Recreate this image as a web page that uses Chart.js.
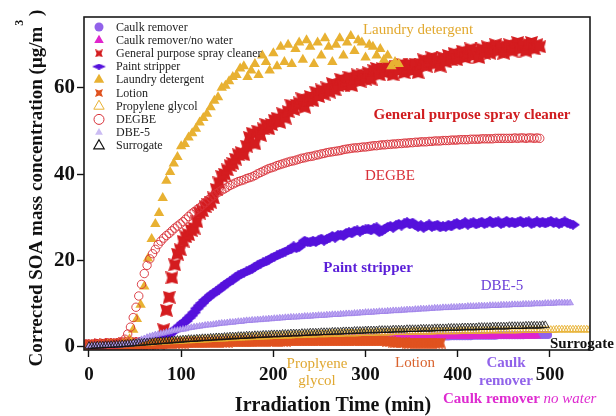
<!DOCTYPE html>
<html>
<head>
<meta charset="utf-8">
<script src="https://cdn.jsdelivr.net/npm/chart.js@4.4.1/dist/chart.umd.min.js"></script>
<style>
  html, body { margin: 0; padding: 0; background: #ffffff; }
  canvas { display: block; }
</style>
</head>
<body>
<canvas id="soa" width="616" height="416"></canvas>
<script>
// ---- Series data: corrected SOA mass concentration (µg/m³) vs irradiation time (min) ----
const seriesNames = ['Caulk remover', 'Caulk remover/no water', 'General purpose spray cleaner',
  'Paint stripper', 'Laundry detergent', 'Lotion', 'Propylene glycol', 'DEGBE', 'DBE-5', 'Surrogate'];
const xTicks = [0, 100, 200, 300, 400, 500];
const yTicks = [0, 20, 40, 60];

// sampled every 3 min (one row = 30 min)
const caulkRemover = [
  0.0,0.0,0.1,0.1,0.1,0.1,0.1,0.2,0.2,0.2,  0.2,0.2,0.3,0.3,0.3,0.3,0.4,0.4,0.4,0.4,
  0.4,0.5,0.5,0.5,0.5,0.6,0.6,0.6,0.6,0.7,  0.7,0.7,0.7,0.7,0.8,0.8,0.8,0.8,0.9,0.9,
  0.9,0.9,0.9,1.0,1.0,1.0,1.0,1.1,1.1,1.1,  1.1,1.1,1.2,1.2,1.2,1.2,1.2,1.3,1.3,1.3,
  1.3,1.3,1.4,1.4,1.4,1.4,1.4,1.5,1.5,1.5,  1.5,1.5,1.5,1.6,1.6,1.6,1.6,1.6,1.7,1.7,
  1.7,1.7,1.7,1.7,1.8,1.8,1.8,1.8,1.8,1.8,  1.9,1.9,1.9,1.9,1.9,1.9,2.0,2.0,2.0,2.0,
  2.0,2.0,2.1,2.1,2.1,2.1,2.1,2.1,2.1,2.2,  2.2,2.2,2.2,2.2,2.2,2.3,2.3,2.3,2.3,2.3,
  2.3,2.3,2.3,2.4,2.4,2.4,2.4,2.4,2.4,2.4,  2.4,2.5,2.5,2.5,2.5,2.5,2.5,2.5,2.5,2.6,
  2.6,2.6,2.6,2.6,2.6,2.6,2.6,2.6,2.7,2.7,  2.7,2.7,2.7,2.7,2.7,2.7,2.7,2.7,2.8,2.8,
  2.8,2.8,2.8,2.8,2.8,2.8,2.8];
const caulkNoWater = [
  0.1,0.1,0.1,0.2,0.2,0.2,0.2,0.3,0.3,0.3,  0.3,0.4,0.4,0.4,0.5,0.5,0.5,0.6,0.6,0.6,
  0.7,0.7,0.7,0.8,0.8,0.8,0.9,0.9,0.9,1.0,  1.0,1.0,1.1,1.1,1.1,1.2,1.2,1.2,1.3,1.3,
  1.3,1.3,1.4,1.4,1.4,1.4,1.5,1.5,1.5,1.5,  1.6,1.6,1.6,1.6,1.7,1.7,1.7,1.7,1.7,1.8,
  1.8,1.8,1.8,1.8,1.9,1.9,1.9,1.9,1.9,1.9,  2.0,2.0,2.0,2.0,2.0,2.0,2.0,2.1,2.1,2.1,
  2.1,2.1,2.1,2.1,2.1,2.1,2.1,2.1,2.2,2.2,  2.2,2.2,2.2,2.2,2.2,2.2,2.2,2.2,2.2,2.2,
  2.2,2.2,2.2,2.2,2.3,2.3,2.3,2.3,2.3,2.3,  2.3,2.3,2.3,2.3,2.3,2.3,2.3,2.3,2.3,2.3,
  2.3,2.3,2.3,2.3,2.3,2.4,2.4,2.4,2.4,2.4,  2.4,2.4,2.4,2.4,2.4,2.4,2.4,2.4,2.4,2.4,
  2.4,2.4,2.4,2.4,2.4,2.4,2.5,2.5,2.5,2.5,  2.5,2.5,2.5,2.5,2.5,2.5,2.5,2.5,2.5,2.5,
  2.5,2.5,2.5];
const lotion = [
  0.3,0.3,0.4,0.3,0.4,0.4,0.4,0.5,0.4,0.5,  0.5,0.5,0.5,0.6,0.6,0.6,0.6,0.6,0.7,0.7,
  0.7,0.7,0.7,0.8,0.8,0.8,0.8,0.8,0.8,0.9,  0.9,0.9,0.9,0.9,0.9,1.0,1.0,1.0,1.0,1.0,
  1.0,1.0,1.0,1.1,1.1,1.1,1.1,1.1,1.1,1.1,  1.1,1.2,1.2,1.2,1.2,1.2,1.2,1.2,1.2,1.2,
  1.3,1.3,1.3,1.3,1.3,1.3,1.3,1.3,1.3,1.3,  1.3,1.3,1.4,1.4,1.4,1.4,1.4,1.4,1.4,1.4,
  1.4,1.4,1.4,1.4,1.4,1.4,1.4,1.4,1.4,1.4,  1.4,1.4,1.4,1.4,1.4,1.4,1.4,1.4,1.4,1.4,
  1.4,1.4,1.4,1.4,1.4,1.4,1.4,1.4,1.3,1.2,  1.1,1.0,1.0,1.0,1.0,0.9,0.9,0.9,0.9,0.9,
  0.9,0.9,0.9,0.9,0.9,0.9,0.9,0.9];
const propyleneGlycol = [
  0.3,0.3,0.3,0.4,0.4,0.4,0.5,0.5,0.5,0.6,  0.6,0.6,0.7,0.7,0.7,0.8,0.8,0.8,0.9,0.9,
  0.9,1.0,1.0,1.0,1.1,1.1,1.1,1.2,1.2,1.3,  1.3,1.3,1.4,1.4,1.4,1.5,1.5,1.5,1.6,1.6,
  1.6,1.7,1.7,1.7,1.8,1.8,1.8,1.9,1.9,1.9,  2.0,2.0,2.0,2.1,2.1,2.1,2.2,2.2,2.2,2.3,
  2.3,2.3,2.3,2.4,2.4,2.4,2.5,2.5,2.5,2.5,  2.6,2.6,2.6,2.6,2.7,2.7,2.7,2.7,2.8,2.8,
  2.8,2.8,2.9,2.9,2.9,2.9,2.9,3.0,3.0,3.0,  3.0,3.0,3.1,3.1,3.1,3.1,3.1,3.1,3.2,3.2,
  3.2,3.2,3.2,3.2,3.3,3.3,3.3,3.3,3.3,3.3,  3.4,3.4,3.4,3.4,3.4,3.4,3.4,3.5,3.5,3.5,
  3.5,3.5,3.5,3.5,3.5,3.6,3.6,3.6,3.6,3.6,  3.6,3.6,3.6,3.6,3.7,3.7,3.7,3.7,3.7,3.7,
  3.7,3.7,3.7,3.7,3.8,3.8,3.8,3.8,3.8,3.8,  3.8,3.8,3.8,3.8,3.8,3.8,3.9,3.9,3.9,3.9,
  3.9,3.9,3.9,3.9,3.9,3.9,3.9,3.9,3.9,4.0,  4.0,4.0,4.0,4.0,4.0,4.0,4.0,4.0,4.0,4.0,
  4.0,4.0];
const dbe5 = [
  0.2,0.2,0.3,0.2,0.3,0.3,0.3,0.3,0.4,0.3,  0.4,0.4,0.5,0.5,0.6,0.7,0.9,1.1,1.4,1.7,
  1.9,2.2,2.4,2.6,2.8,2.9,3.1,3.2,3.4,3.5,  3.7,3.8,3.9,4.0,4.1,4.2,4.4,4.5,4.6,4.7,
  4.8,4.9,5.0,5.1,5.1,5.2,5.3,5.4,5.5,5.5,  5.6,5.7,5.7,5.8,5.9,5.9,6.0,6.1,6.1,6.2,
  6.2,6.3,6.3,6.4,6.4,6.5,6.5,6.6,6.6,6.7,  6.7,6.8,6.8,6.9,6.9,6.9,7.0,7.0,7.1,7.1,
  7.1,7.2,7.2,7.3,7.3,7.3,7.4,7.4,7.5,7.5,  7.5,7.6,7.6,7.7,7.7,7.7,7.8,7.8,7.9,7.9,
  8.0,8.0,8.0,8.1,8.1,8.2,8.2,8.2,8.3,8.3,  8.4,8.4,8.4,8.5,8.5,8.6,8.6,8.6,8.7,8.7,
  8.8,8.8,8.8,8.9,8.9,9.0,9.0,9.0,9.1,9.1,  9.1,9.2,9.2,9.2,9.3,9.3,9.3,9.4,9.4,9.4,
  9.4,9.5,9.5,9.5,9.5,9.6,9.6,9.6,9.6,9.7,  9.7,9.7,9.7,9.8,9.8,9.8,9.8,9.9,9.9,9.9,
  9.9,10.0,10.0,10.0,10.0,10.1,10.1,10.1,10.1,10.2,  10.2,10.2,10.2,10.2,10.2];
const surrogate = [
  0.2,0.2,0.2,0.3,0.3,0.3,0.4,0.4,0.4,0.5,  0.5,0.5,0.6,0.6,0.7,0.7,0.8,0.8,0.9,0.9,
  1.0,1.0,1.1,1.1,1.2,1.2,1.3,1.3,1.4,1.4,  1.5,1.5,1.6,1.6,1.7,1.7,1.8,1.8,1.8,1.9,
  1.9,2.0,2.0,2.0,2.1,2.1,2.2,2.2,2.2,2.3,  2.3,2.4,2.4,2.4,2.5,2.5,2.5,2.6,2.6,2.6,
  2.7,2.7,2.7,2.8,2.8,2.8,2.9,2.9,2.9,2.9,  3.0,3.0,3.0,3.1,3.1,3.1,3.1,3.2,3.2,3.2,
  3.3,3.3,3.3,3.3,3.4,3.4,3.4,3.4,3.5,3.5,  3.5,3.5,3.6,3.6,3.6,3.6,3.7,3.7,3.7,3.7,
  3.8,3.8,3.8,3.8,3.8,3.9,3.9,3.9,3.9,3.9,  4.0,4.0,4.0,4.0,4.0,4.1,4.1,4.1,4.1,4.1,
  4.2,4.2,4.2,4.2,4.2,4.3,4.3,4.3,4.3,4.3,  4.4,4.4,4.4,4.4,4.4,4.5,4.5,4.5,4.5,4.5,
  4.5,4.6,4.6,4.6,4.6,4.6,4.7,4.7,4.7,4.7,  4.7,4.7,4.8,4.8,4.8,4.8,4.8,4.8,4.9,4.9,
  4.9,4.9,4.9,4.9,5.0,5.0];
const sprayCleaner = [
  0.3,0.4,0.3,0.4,0.5,0.4,0.5,0.4,0.6,0.5,  0.6,0.5,0.6,0.7,0.6,0.7,0.8,0.7,0.8,0.7,
  0.8,0.9,0.8,0.9,1.0,0.9,1.1,4.0,8.5,11.5,  16.0,19.0,21.5,22.5,24.5,25.5,26.0,27.0,27.5,29.0,
  31.0,31.5,32.5,33.0,33.5,34.5,36.5,38.0,39.5,40.0,  41.0,42.0,42.5,43.5,44.5,45.0,44.5,46.5,48.5,49.5,
  47.0,50.0,49.0,50.5,51.5,50.5,51.5,52.5,53.0,52.0,  54.0,53.0,54.5,56.0,55.0,56.0,56.5,57.5,55.5,57.0,
  58.0,57.0,59.0,58.0,59.5,58.5,60.0,59.0,61.0,59.5,  60.5,62.0,60.5,61.5,62.5,60.5,62.0,63.0,61.5,63.0,
  62.0,63.5,62.0,64.0,64.5,63.0,64.5,63.5,65.0,64.0,  63.0,65.0,64.0,65.5,63.5,64.5,65.5,64.0,65.5,63.5,
  65.5,66.5,65.0,66.0,67.0,65.5,66.5,65.0,67.0,66.0,  67.5,66.5,68.0,66.5,67.5,68.5,67.0,68.0,69.0,67.5,
  68.5,67.0,69.0,68.0,69.5,68.0,69.0,70.0,68.5,69.5,  68.0,69.5,70.0,68.5,69.5,70.5,69.0,70.0,68.5,70.0,
  70.5,69.0,70.0,69.5];
const paintStripper = [
  0.2,0.2,0.3,0.2,0.3,0.3,0.2,0.3,0.3,0.4,  0.3,0.4,0.4,0.4,0.5,0.5,0.6,0.6,0.7,0.8,
  0.9,1.0,1.2,1.4,1.6,1.8,2.0,2.3,2.6,2.9,  3.4,4.0,4.3,5.0,5.6,6.0,6.7,7.3,8.0,8.9,
  9.6,10.2,10.9,11.4,12.0,12.4,12.9,13.3,13.8,14.3,  14.8,15.2,15.6,16.1,16.6,16.9,17.2,17.5,17.8,18.1,
  18.6,18.9,19.3,19.6,19.8,20.2,20.6,20.9,21.2,21.5,  21.8,22.1,22.4,22.6,23.3,22.9,23.2,23.9,24.6,24.3,
  24.2,24.6,24.3,24.7,25.1,24.6,25.0,25.3,25.7,25.3,  25.9,26.0,25.7,26.4,26.6,26.3,26.9,27.0,26.7,27.1,
  27.2,27.4,27.0,27.5,27.7,26.6,26.9,27.4,27.8,28.0,  27.6,28.2,28.5,28.1,28.6,28.9,28.4,28.8,28.2,27.8,
  28.2,27.6,28.0,28.4,27.8,28.1,28.3,27.7,28.0,27.8,  28.3,27.9,28.4,28.7,28.2,28.5,28.9,28.3,28.6,28.9,
  28.4,28.7,29.0,28.5,28.8,29.2,28.6,28.9,29.1,28.5,  28.8,29.2,28.7,29.0,28.6,28.9,29.2,28.7,28.9,29.1,
  28.5,28.8,29.1,28.7,29.0,28.6,28.9,29.2,28.7,28.9,  28.5,28.8,29.1,28.7,28.5,28.3];
const degbe = [
  0.3,0.4,0.3,0.4,0.5,0.4,0.5,0.4,0.5,0.6,  0.6,0.8,1.2,1.8,3.0,4.6,6.8,9.2,11.8,14.5,
  17.0,18.9,20.4,21.6,22.6,23.7,24.5,25.2,25.8,26.3,  26.9,27.5,28.0,28.5,29.0,29.6,30.2,30.8,31.3,31.8,
  32.2,32.8,33.4,34.0,34.5,35.0,35.5,35.9,36.3,36.6,  37.0,37.4,37.7,38.0,38.3,38.5,38.7,39.0,39.2,39.4,
  39.7,40.1,40.4,40.7,41.0,41.3,41.5,41.7,42.0,42.2,  42.4,42.6,42.8,43.0,43.1,43.3,43.5,43.7,43.8,44.0,
  44.1,44.2,44.4,44.5,44.7,44.8,45.0,45.1,45.2,45.3,  45.4,45.5,45.7,45.8,45.9,46.0,46.1,46.1,46.2,46.3,
  46.3,46.4,46.5,46.6,46.6,46.7,46.8,46.8,46.9,46.9,  47.0,47.0,47.1,47.1,47.2,47.2,47.3,47.3,47.4,47.4,
  47.5,47.5,47.5,47.6,47.6,47.7,47.7,47.7,47.8,47.8,  47.8,47.9,47.9,47.9,48.0,48.0,48.0,48.0,48.1,48.1,
  48.1,48.1,48.2,48.2,48.2,48.2,48.2,48.3,48.3,48.3,  48.3,48.3,48.3,48.3,48.4,48.3,48.4,48.4,48.3,48.4,
  48.4,48.3,48.4,48.3];

// sampled every 4 min (one row = 40 min)
const laundryDetergent = [
  0.3,0.4,0.3,0.5,0.4,0.5,0.6,0.5,0.7,0.8,  1.2,1.8,4.0,6.5,9.8,14.0,20.5,25.0,28.5,31.0,
  34.5,38.5,40.5,42.5,44.0,46.5,47.0,48.5,49.5,50.5,  52.0,53.0,54.0,55.5,57.0,57.8,60.0,60.5,61.5,62.5,
  63.0,64.5,65.0,62.5,64.0,65.5,63.0,67.5,66.0,64.0,  68.0,65.0,69.5,66.0,70.0,65.5,69.0,70.5,66.5,71.0,
  69.5,65.5,70.5,67.5,71.5,69.5,66.0,70.0,71.5,67.5,  70.5,72.0,68.5,71.0,70.5,67.0,70.0,69.5,67.5,69.0,
  66.5,67.5,65.0,66.0,65.5];

// ---- helpers ----
const SERIF = "'Liberation Serif', 'Times New Roman', serif";

function points(values, stepMin) {
  return values.map((v, i) => ({ x: i * stepMin, y: v }));
}

// filled four-point "bow-tie" marker
function bowtie(size, color, pinch) {
  const c = document.createElement('canvas');
  c.width = c.height = size;
  const g = c.getContext('2d');
  const h = size / 2, k = h * pinch;
  g.translate(h, h);
  g.beginPath();
  g.moveTo(-h, -h); g.lineTo(0, -k); g.lineTo(h, -h); g.lineTo(k, 0);
  g.lineTo(h, h); g.lineTo(0, k); g.lineTo(-h, h); g.lineTo(-k, 0);
  g.closePath();
  g.fillStyle = color;
  g.fill();
  return c;
}

// flat diamond marker
function rhombus(w, h, color) {
  const c = document.createElement('canvas');
  c.width = w; c.height = h;
  const g = c.getContext('2d');
  g.beginPath();
  g.moveTo(0, h / 2); g.lineTo(w / 2, 0); g.lineTo(w, h / 2); g.lineTo(w / 2, h);
  g.closePath();
  g.fillStyle = color;
  g.fill();
  return c;
}

const COL = {
  caulk: '#9262ea', noWater: '#e024cc', spray: '#d41c1f', paint: '#5512dc',
  laundry: '#e8b132', lotion: '#e0521f', propylene: '#e8b132', degbe: '#d83038',
  dbe5: '#bca6f2', surrogate: '#111111'
};

const sprayMark = bowtie(13, COL.spray, 0.7);
const lotionMark = bowtie(11, COL.lotion, 0.7);
const paintMark = rhombus(14, 10, COL.paint);

const datasets = [
  { label: seriesNames[0], data: points(caulkRemover, 3), pointStyle: 'circle', pointRadius: 4,
    backgroundColor: COL.caulk, borderColor: COL.caulk, borderWidth: 0 },
  { label: seriesNames[1], data: points(caulkNoWater, 3), pointStyle: 'triangle', pointRadius: 4.8,
    backgroundColor: COL.noWater, borderColor: COL.noWater, borderWidth: 0 },
  { label: seriesNames[2], data: points(sprayCleaner, 3), pointStyle: sprayMark, pointRadius: 6,
    backgroundColor: COL.spray, borderColor: COL.spray },
  { label: seriesNames[3], data: points(paintStripper, 3), pointStyle: paintMark, pointRadius: 6,
    backgroundColor: COL.paint, borderColor: COL.paint },
  { label: seriesNames[4], data: points(laundryDetergent, 4), pointStyle: 'triangle', pointRadius: 6,
    backgroundColor: COL.laundry, borderColor: COL.laundry, borderWidth: 0 },
  { label: seriesNames[5], data: points(lotion, 3), pointStyle: lotionMark, pointRadius: 4,
    backgroundColor: COL.lotion, borderColor: COL.lotion },
  { label: seriesNames[6], data: points(propyleneGlycol, 3), pointStyle: 'triangle', pointRadius: 4.5,
    backgroundColor: 'rgba(0,0,0,0)', borderColor: COL.propylene, borderWidth: 0.9 },
  { label: seriesNames[7], data: points(degbe, 3), pointStyle: 'circle', pointRadius: 4.2,
    backgroundColor: 'rgba(0,0,0,0)', borderColor: COL.degbe, borderWidth: 0.9 },
  { label: seriesNames[8], data: points(dbe5, 3), pointStyle: 'triangle', pointRadius: 3.8,
    backgroundColor: COL.dbe5, borderColor: '#9c7ee8', borderWidth: 0.7 },
  { label: seriesNames[9], data: points(surrogate, 3), pointStyle: 'triangle', pointRadius: 4.5,
    backgroundColor: 'rgba(0,0,0,0)', borderColor: COL.surrogate, borderWidth: 0.8 }
];
// later series sit on top of earlier ones
datasets.forEach((d, i) => { d.order = datasets.length - i; d.showLine = false; d.pointHoverRadius = d.pointRadius; });

// ---- legend, axis titles, frame and series labels ----
function drawMarker(ctx, kind, x, y) {
  ctx.save();
  if (kind.img) {
    ctx.drawImage(kind.img, x - kind.img.width / 2, y - kind.img.height / 2);
  } else {
    ctx.beginPath();
    if (kind.shape === 'circle') {
      ctx.arc(x, y, kind.r, 0, Math.PI * 2);
    } else {
      const r = kind.r;
      for (let j = 0; j < 3; j++) {
        const a = j * 2 * Math.PI / 3;
        const px = x + Math.sin(a) * r, py = y - Math.cos(a) * r;
        if (j === 0) ctx.moveTo(px, py); else ctx.lineTo(px, py);
      }
      ctx.closePath();
    }
    if (kind.fill) { ctx.fillStyle = kind.fill; ctx.fill(); }
    if (kind.stroke) { ctx.strokeStyle = kind.stroke; ctx.lineWidth = kind.lw || 1; ctx.stroke(); }
  }
  ctx.restore();
}

const legendMarks = [
  { shape: 'circle', r: 4.5, fill: COL.caulk },
  { shape: 'triangle', r: 5.5, fill: COL.noWater },
  { img: bowtie(8, COL.spray, 0.6) },
  { img: rhombus(14, 6, COL.paint) },
  { shape: 'triangle', r: 6, fill: COL.laundry },
  { img: bowtie(8, COL.lotion, 0.6) },
  { shape: 'triangle', r: 6, stroke: COL.propylene, lw: 1 },
  { shape: 'circle', r: 5, stroke: COL.degbe, lw: 1 },
  { shape: 'triangle', r: 4.5, fill: '#cbbcf3' },
  { shape: 'triangle', r: 6, stroke: '#111', lw: 1.2 }
];

const decor = {
  id: 'decor',
  afterDatasetsDraw(chart) {
    const { ctx, chartArea: a } = chart;
    ctx.save();
    ctx.strokeStyle = '#1a1a1a';
    ctx.lineWidth = 1.6;
    ctx.strokeRect(a.left, a.top, a.right - a.left, a.bottom - a.top);
    ctx.restore();
  },
  afterDraw(chart) {
    const ctx = chart.ctx;
    ctx.save();
    // legend
    ctx.font = '12px ' + SERIF;
    ctx.fillStyle = '#1c1c1c';
    ctx.textBaseline = 'middle';
    ctx.textAlign = 'left';
    seriesNames.forEach((name, i) => {
      const y = 27 + 13.2 * i;
      drawMarker(ctx, legendMarks[i], 99, y);
      ctx.fillText(name, 116, y + 0.5);
    });

    // y-axis title with superscript
    ctx.save();
    ctx.translate(42, 188);
    ctx.rotate(-Math.PI / 2);
    ctx.fillStyle = '#111';
    ctx.textBaseline = 'alphabetic';
    ctx.textAlign = 'left';
    const main = 'Corrected SOA mass concentration (\u03bcg/m';
    ctx.font = 'bold 19px ' + SERIF;
    const wMain = ctx.measureText(main).width;
    const wClose = ctx.measureText(' )').width;
    ctx.font = 'bold 12px ' + SERIF;
    const wSup = ctx.measureText('3').width;
    const x0 = -(wMain + wSup + wClose) / 2;
    ctx.font = 'bold 19px ' + SERIF;
    ctx.fillText(main, x0, 0);
    ctx.font = 'bold 12px ' + SERIF;
    ctx.fillText('3', x0 + wMain + 1, -19);
    ctx.font = 'bold 19px ' + SERIF;
    ctx.fillText(' )', x0 + wMain + wSup, 0);
    ctx.restore();

    // x-axis title
    ctx.font = 'bold 20px ' + SERIF;
    ctx.fillStyle = '#111';
    ctx.textAlign = 'center';
    ctx.textBaseline = 'middle';
    ctx.fillText('Irradiation Time (min)', 333, 406);

    // series labels
    const put = (text, x, y, color, font, align) => {
      ctx.font = font;
      ctx.fillStyle = color;
      ctx.textAlign = align || 'center';
      ctx.fillText(text, x, y);
    };
    const reg = '15px ' + SERIF, bold = 'bold 15px ' + SERIF;
    put('Laundry detergent', 418, 30, '#e2a92f', reg);
    put('General purpose spray cleaner', 472, 115, '#d01c1f', bold);
    put('DEGBE', 390, 176, '#d83038', reg);
    put('Paint stripper', 368, 268, '#5a1ed8', bold);
    put('DBE-5', 502, 286, '#6c40d8', reg);
    put('Surrogate', 550, 344, '#111', bold, 'left');
    put('Proplyene', 317, 364, '#e0a831', reg);
    put('glycol', 317, 381, '#e0a831', reg);
    put('Lotion', 415, 363, '#d9622d', reg);
    put('Caulk', 506, 363, '#9163ea', bold);
    put('remover', 506, 381, '#9163ea', bold);
    ctx.font = bold;
    const wCaulk = ctx.measureText('Caulk remover ').width;
    put('Caulk remover ', 443, 399, '#de2bd0', bold, 'left');
    put('no water', 443 + wCaulk, 399, '#de2bd0', 'italic 15px ' + SERIF, 'left');
    ctx.restore();
  }
};

new Chart(document.getElementById('soa'), {
  type: 'scatter',
  data: { datasets },
  options: {
    responsive: false,
    animation: false,
    events: [],
    layout: { padding: { left: 0, right: 26, top: 17, bottom: 0 } },
    plugins: { legend: { display: false }, tooltip: { enabled: false } },
    scales: {
      x: {
        type: 'linear', min: -5.4, max: 543.5,
        afterBuildTicks: s => { s.ticks = xTicks.map(v => ({ value: v })); },
        afterFit: s => { s.height = 66; },
        border: { display: false },
        grid: { drawOnChartArea: false, drawTicks: true, tickLength: 7, tickWidth: 1.4, tickColor: '#111' },
        ticks: { autoSkip: false, maxRotation: 0, padding: 7, color: '#111',
          font: { family: SERIF, size: 19, weight: 'bold' } }
      },
      y: {
        type: 'linear', min: -0.7, max: 76.4,
        afterBuildTicks: s => { s.ticks = yTicks.map(v => ({ value: v })); },
        afterFit: s => { s.width = 84; },
        border: { display: false },
        grid: { drawOnChartArea: false, drawTicks: true, tickLength: 7, tickWidth: 1.4, tickColor: '#111' },
        ticks: { padding: 2, color: '#111',
          font: { family: SERIF, size: 21, weight: 'bold' } }
      }
    }
  },
  plugins: [decor]
});
</script>
</body>
</html>
